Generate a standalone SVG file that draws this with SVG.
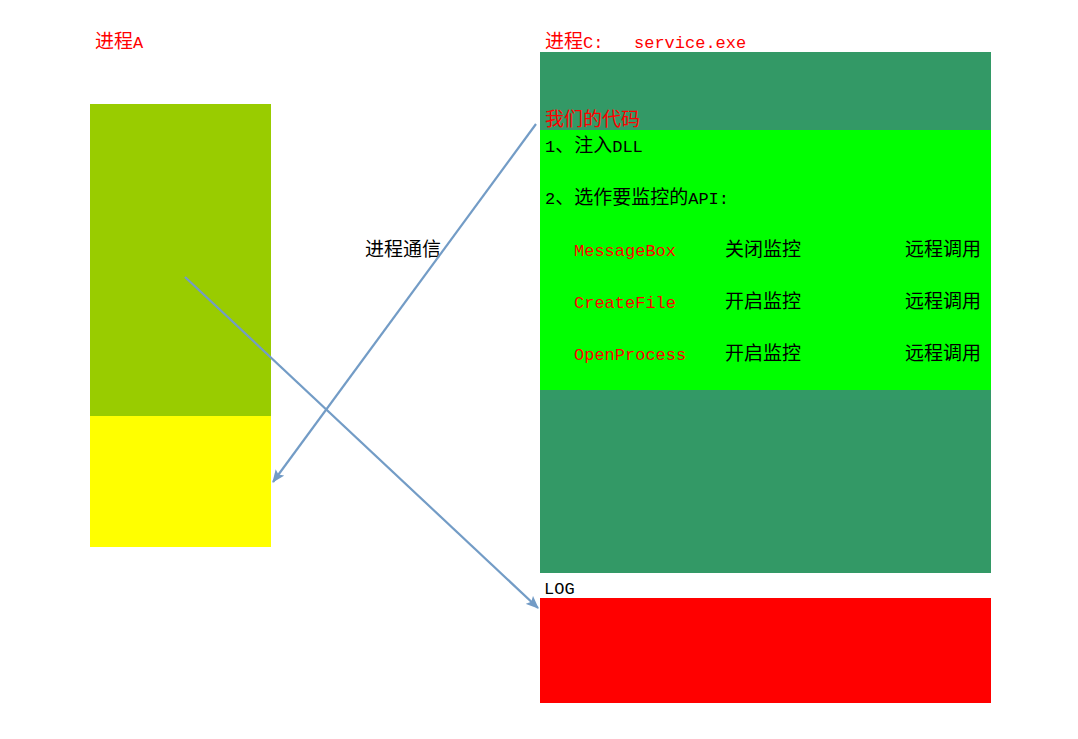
<svg xmlns="http://www.w3.org/2000/svg" width="1078" height="739" viewBox="0 0 1078 739">
<style>
text{font-family:"Liberation Mono","Noto Sans CJK SC",monospace;font-size:19px;fill:#000}
.r{fill:#ff0000}
.l{font-size:17px}
.c{stroke:#739cc6;stroke-width:2.2;fill:none}
</style>
<defs>
<marker id="ah" viewBox="0 0 12 10" refX="11" refY="5" markerWidth="13" markerHeight="11" markerUnits="userSpaceOnUse" orient="auto">
<path d="M0,0 L12,5 L0,10 L2.5,5 z" fill="#739cc6"/>
</marker>
</defs>
<rect width="1078" height="739" fill="#fff"/>
<g id="processA">
<text class="r" x="95" y="48">进程<tspan class="l">A</tspan></text>
<rect x="90" y="104" width="181" height="312" fill="#99cc00"/>
<rect x="90" y="416" width="181" height="131" fill="#ffff00"/>
</g>
<g id="processC">
<text class="r" x="545" y="48">进程<tspan class="l">C:</tspan><tspan class="l" x="634">service.exe</tspan></text>
<rect x="540" y="52" width="451" height="521" fill="#339966"/>
<rect x="540" y="130" width="451" height="260" fill="#00ff00"/>
<text class="r" x="545" y="126">我们的代码</text>
<text x="545" y="152"><tspan class="l">1</tspan>、注入<tspan class="l">DLL</tspan></text>
<text x="545" y="204"><tspan class="l">2</tspan>、选作要监控的<tspan class="l">API:</tspan></text>
<text class="r l" x="574" y="256">MessageBox</text>
<text x="725" y="256">关闭监控</text>
<text x="905" y="256">远程调用</text>
<text class="r l" x="574" y="308">CreateFile</text>
<text x="725" y="308">开启监控</text>
<text x="905" y="308">远程调用</text>
<text class="r l" x="574" y="360">OpenProcess</text>
<text x="725" y="360">开启监控</text>
<text x="905" y="360">远程调用</text>
</g>
<g id="log">
<text class="l" x="544" y="594">LOG</text>
<rect x="540" y="598" width="451" height="105" fill="#ff0000"/>
</g>
<g id="label">
<text x="365" y="256">进程通信</text>
</g>
<g id="connectors">
<line class="c" x1="536" y1="124" x2="273" y2="482" marker-end="url(#ah)"/>
<line class="c" x1="185" y1="277" x2="538" y2="608" marker-end="url(#ah)"/>
</g>
</svg>
